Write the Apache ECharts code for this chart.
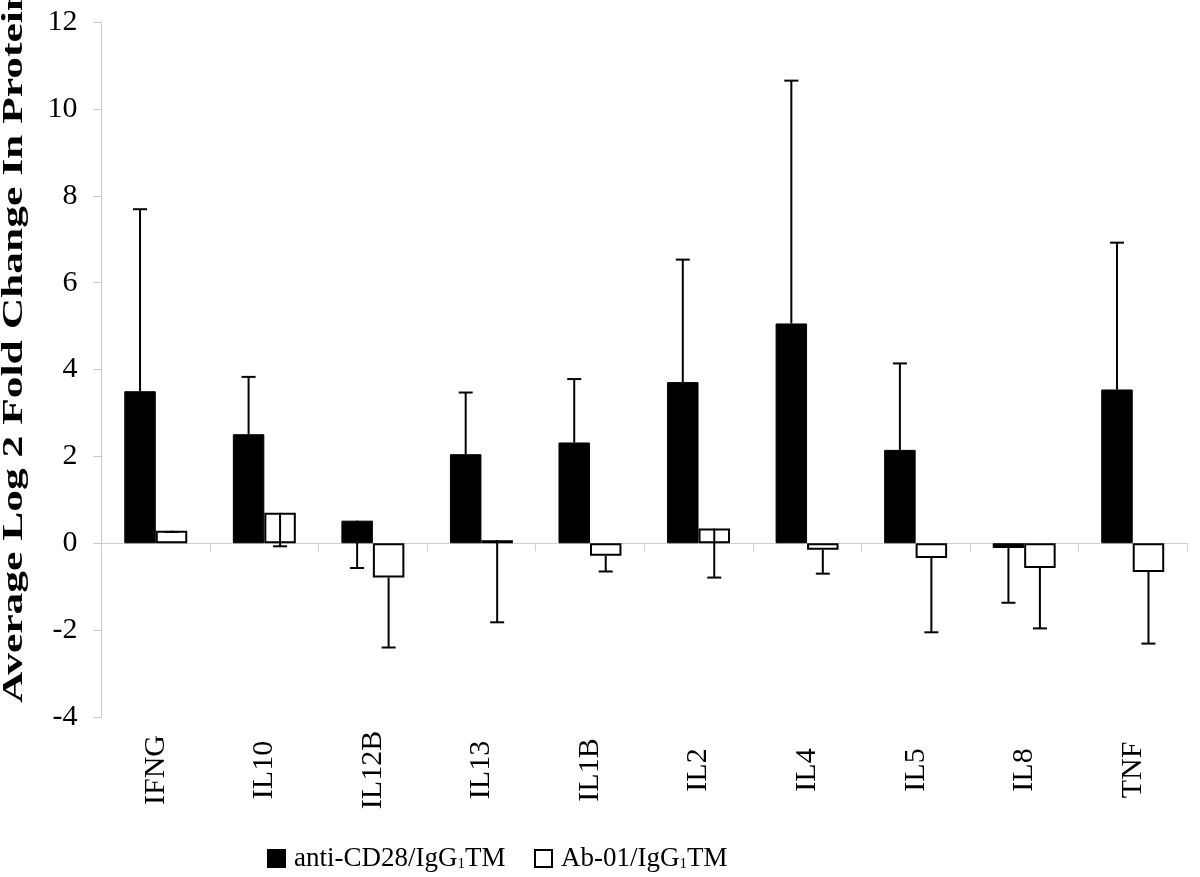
<!DOCTYPE html>
<html>
<head>
<meta charset="utf-8">
<script src="https://cdn.jsdelivr.net/npm/echarts@6/dist/echarts.min.js"></script>
<style>
html,body{margin:0;padding:0;background:#fff;}
#chart{width:1200px;height:877px;}
</style>
</head>
<body>
<div id="chart"></div>
<script>
const categories = ['IFNG','IL10','IL12B','IL13','IL1B','IL2','IL4','IL5','IL8','TNF'];
const cd28Values = [3.50, 2.51, 0.52, 2.05, 2.32, 3.71, 5.06, 2.15, -0.11, 3.54];
const cd28ErrEnd = [7.69, 3.83, -0.57, 3.47, 3.78, 6.53, 10.65, 4.14, -1.37, 6.92];
const ab01Values = [0.29, 0.70, -0.79, 0.07, -0.29, 0.34, -0.15, -0.34, -0.57, -0.66];
const ab01ErrEnd = [0.26, -0.07, -2.40, -1.82, -0.65, -0.79, -0.70, -2.05, -1.96, -2.31];
const yTicks = {min: -4, max: 12, interval: 2};
const seriesNames = ['anti-CD28/IgG1TM', 'Ab-01/IgG1TM'];
const legendParts = [['anti-CD28/IgG', '1', 'TM'], ['Ab-01/IgG', '1', 'TM']];
const yTitle = 'Average Log 2 Fold Change In Protein';

const SERIF = '"Liberation Serif","Times New Roman",serif';
const GAP = 0.42;

function errSeries(values, ends, side) {
  return {
    type: 'custom',
    xAxisIndex: 0,
    z: 5,
    silent: true,
    data: values.map((v, i) => [i, v, ends[i]]),
    renderItem: function (params, api) {
      const i = api.value(0), v = api.value(1), e = api.value(2);
      const band = api.size([1, 0])[0];
      const bw = band * (1 - GAP) / 2;
      const p0 = api.coord([i, v]);
      const p1 = api.coord([i, e]);
      const x = p0[0] + side * bw / 2;
      const cap = 7;
      return {
        type: 'group',
        children: [
          {type: 'line', shape: {x1: x, y1: p0[1], x2: x, y2: p1[1]}, style: {stroke: '#000', lineWidth: 2}},
          {type: 'line', shape: {x1: x - cap, y1: p1[1], x2: x + cap, y2: p1[1]}, style: {stroke: '#000', lineWidth: 2}}
        ]
      };
    }
  };
}

function legendCfg(idx, left) {
  return {
    data: [seriesNames[idx]],
    left: left,
    top: 840,
    icon: 'rect',
    itemWidth: 17,
    itemHeight: 17,
    selectedMode: false,
    formatter: function () {
      const p = legendParts[idx];
      return '{p| }{a|' + p[0] + '}{s|' + p[1] + '}{a|' + p[2] + '}';
    },
    textStyle: {
      color: '#000',
      fontFamily: SERIF,
      fontSize: 27,
      rich: {
        p: {width: 4, fontSize: 27, fontFamily: SERIF},
        a: {fontSize: 27, fontFamily: SERIF, color: '#000'},
        s: {fontSize: 15, fontFamily: SERIF, color: '#000', verticalAlign: 'bottom', padding: [10, 0, 0, 0]}
      }
    }
  };
}

const chart = echarts.init(document.getElementById('chart'), null, {renderer: 'canvas'});
chart.setOption({
  animation: false,
  backgroundColor: '#fff',
  grid: {left: 101.5, right: 13, top: 22, bottom: 160, containLabel: false},
  legend: [legendCfg(0, 262), legendCfg(1, 529)],
  xAxis: [
    {
      type: 'category',
      data: categories,
      position: 'bottom',
      axisLine: {onZero: true, lineStyle: {color: '#cfcfcf', width: 1}},
      axisTick: {show: true, length: 8, lineStyle: {color: '#cfcfcf'}},
      axisLabel: {show: false},
      splitLine: {show: false}
    },
    {
      type: 'category',
      data: categories,
      position: 'bottom',
      axisLine: {show: false, onZero: false},
      axisTick: {show: false},
      axisLabel: {
        show: true, rotate: 90, align: 'center', verticalAlign: 'middle', margin: 53,
        color: '#000', fontFamily: SERIF, fontSize: 30, interval: 0
      },
      splitLine: {show: false}
    }
  ],
  yAxis: {
    type: 'value',
    min: yTicks.min, max: yTicks.max, interval: yTicks.interval,
    axisLine: {show: true, lineStyle: {color: '#c8c8c8', width: 1}},
    axisTick: {show: true, length: 8, lineStyle: {color: '#c8c8c8'}},
    axisLabel: {color: '#000', fontFamily: SERIF, fontSize: 30, margin: 24},
    splitLine: {show: false}
  },
  graphic: [{
    type: 'text',
    x: 14,
    y: 345,
    rotation: Math.PI / 2,
    scaleX: 1.45,
    scaleY: 1,
    style: {
      text: yTitle,
      font: 'bold 30px ' + SERIF,
      fontSize: 30, fontWeight: 'bold', fontFamily: SERIF,
      fill: '#000',
      align: 'center', verticalAlign: 'middle',
      textAlign: 'center', textVerticalAlign: 'middle'
    }
  }],
  series: [
    {
      name: seriesNames[0],
      type: 'bar',
      xAxisIndex: 0,
      data: cd28Values,
      barGap: '0%',
      barCategoryGap: (GAP * 100) + '%',
      itemStyle: {color: '#000', borderColor: '#000', borderWidth: 1}
    },
    {
      name: seriesNames[1],
      type: 'bar',
      xAxisIndex: 0,
      data: ab01Values,
      barGap: '0%',
      barCategoryGap: (GAP * 100) + '%',
      itemStyle: {color: '#fff', borderColor: '#000', borderWidth: 2}
    },
    errSeries(cd28Values, cd28ErrEnd, -1),
    errSeries(ab01Values, ab01ErrEnd, 1)
  ]
});
</script>
</body>
</html>
